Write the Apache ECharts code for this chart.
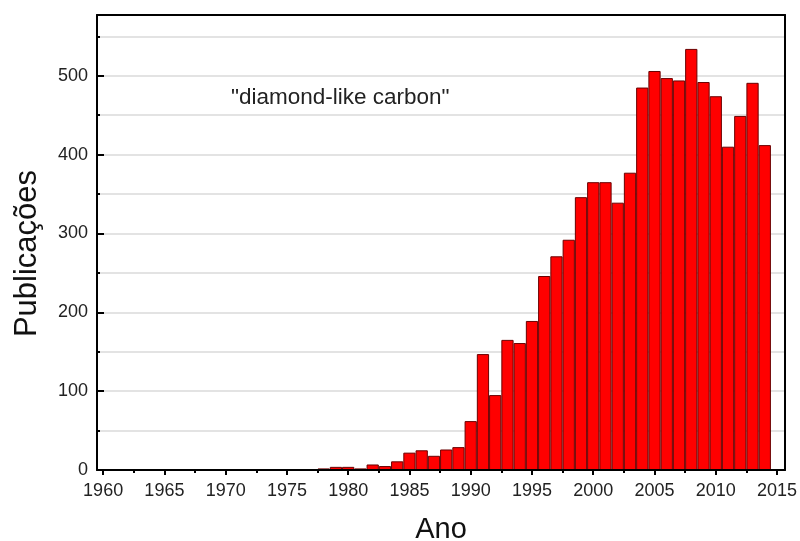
<!DOCTYPE html>
<html>
<head>
<meta charset="utf-8">
<title>Publicações - diamond-like carbon</title>
<script src="https://cdn.jsdelivr.net/npm/echarts@6/dist/echarts.min.js"></script>
<style>
  html, body { margin: 0; padding: 0; background: #fff; }
  #chart { width: 800px; height: 541px; }
</style>
</head>
<body>
<div id="chart"></div>
<script>
// Publications per year on "diamond-like carbon"
const years = [1978, 1979, 1980, 1981, 1982, 1983, 1984, 1985, 1986, 1987,
               1988, 1989, 1990, 1991, 1992, 1993, 1994, 1995, 1996, 1997,
               1998, 1999, 2000, 2001, 2002, 2003, 2004, 2005, 2006, 2007,
               2008, 2009, 2010, 2011, 2012, 2013, 2014];
const publications = [2, 4, 4, 2, 7, 5, 11, 22, 25, 18,
                      26, 29, 62, 147, 95, 165, 161, 189, 246, 271,
                      292, 346, 365, 365, 339, 377, 485, 506, 497, 494,
                      534, 492, 474, 410, 449, 491, 412];

// Axis ticks
const yearTicks = [1960, 1965, 1970, 1975, 1980, 1985, 1990, 1995, 2000, 2005, 2010, 2015];
const yearMinorTicks = [1962.5, 1967.5, 1972.5, 1977.5, 1982.5, 1987.5, 1992.5, 1997.5, 2002.5, 2007.5, 2012.5];
const countTicks = [0, 100, 200, 300, 400, 500];

const FONT = 'Liberation Sans, Arial, sans-serif';
const X_MIN = 1959.5, X_MAX = 2015.65;
const Y_MAX = 577;

const frameLine = { show: true, onZero: false, lineStyle: { color: '#000', width: 2 } };

const chart = echarts.init(document.getElementById('chart'), null, { renderer: 'canvas' });

chart.setOption({
  animation: false,
  backgroundColor: '#ffffff',
  grid: { left: 97, right: 15, top: 15, bottom: 71, outerBoundsMode: 'none', containLabel: false },
  xAxis: [
    {
      type: 'value', min: X_MIN, max: X_MAX, position: 'bottom', z: 5,
      name: 'Ano', nameLocation: 'middle', nameGap: 45,
      nameTextStyle: { fontFamily: FONT, fontSize: 29, color: '#111' },
      axisLine: frameLine,
      axisTick: { show: true, inside: false, length: 5, customValues: yearTicks,
                  lineStyle: { color: '#000', width: 2 } },
      axisLabel: { show: true, customValues: yearTicks, margin: 12,
                   fontFamily: FONT, fontSize: 18, color: '#222',
                   formatter: v => String(Math.round(v)) },
      splitLine: { show: false }
    },
    {
      type: 'value', min: X_MIN, max: X_MAX, position: 'bottom', z: 5,
      axisLine: { show: false, onZero: false },
      axisTick: { show: true, inside: false, length: 3, customValues: yearMinorTicks,
                  lineStyle: { color: '#000', width: 2 } },
      axisLabel: { show: false },
      splitLine: { show: false }
    },
    {
      // top edge of the frame
      type: 'value', min: X_MIN, max: X_MAX, position: 'top', z: 5,
      axisLine: frameLine, axisTick: { show: false }, axisLabel: { show: false },
      splitLine: { show: false }
    }
  ],
  yAxis: [
    {
      // gridlines every 50, labels every 100; stays beneath the bars
      type: 'value', min: 0, max: Y_MAX, interval: 50, position: 'left', z: 0,
      name: 'Publicações', nameLocation: 'middle', nameGap: 54, nameRotate: 90,
      nameTextStyle: { fontFamily: FONT, fontSize: 31, color: '#111', padding: [0, 22, 0, 0] },
      axisLine: { show: false, onZero: false },
      axisTick: { show: false },
      axisLabel: { show: true, margin: 9, fontFamily: FONT, fontSize: 18, color: '#222',
                   formatter: v => (countTicks.indexOf(v) >= 0 ? String(v) : '') },
      splitLine: { show: true, lineStyle: { color: '#dadada', width: 1.5 } }
    },
    {
      // left edge with minor inward ticks
      type: 'value', min: 0, max: Y_MAX, interval: 50, position: 'left', z: 5,
      axisLine: frameLine,
      axisTick: { show: true, inside: true, length: 3, lineStyle: { color: '#000', width: 2 } },
      axisLabel: { show: false },
      splitLine: { show: false }
    },
    {
      // major inward ticks
      type: 'value', min: 0, max: Y_MAX, position: 'left', z: 5,
      axisLine: { show: false, onZero: false },
      axisTick: { show: true, inside: true, length: 7, customValues: countTicks,
                  lineStyle: { color: '#000', width: 2 } },
      axisLabel: { show: false },
      splitLine: { show: false }
    },
    {
      // right edge of the frame
      type: 'value', min: 0, max: Y_MAX, position: 'right', z: 5,
      axisLine: frameLine, axisTick: { show: false }, axisLabel: { show: false },
      splitLine: { show: false }
    }
  ],
  graphic: [
    {
      type: 'text', left: 231, top: 86, z: 10,
      style: { text: '"diamond-like carbon"', fontFamily: FONT, fontSize: 22.5, fill: '#222' }
    }
  ],
  series: [
    {
      type: 'bar', xAxisIndex: 0, yAxisIndex: 0, z: 2,
      barCategoryGap: '0%',
      data: years.map((y, i) => [y, publications[i]]),
      itemStyle: { color: '#ff0000', borderColor: '#6a0000', borderWidth: 1 },
      emphasis: { disabled: true }
    }
  ]
});
</script>
</body>
</html>
